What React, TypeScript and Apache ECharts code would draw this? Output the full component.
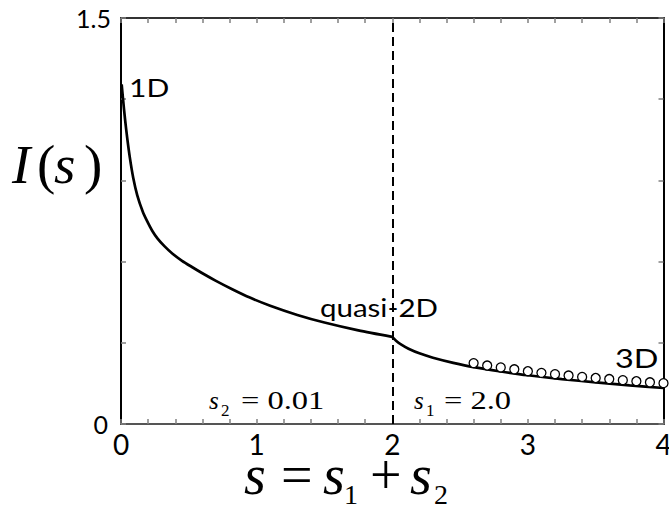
import { useEffect, useRef } from 'react';
import * as echarts from 'echarts';

// x tick labels and y tick labels
const xTickLabels = ['0', '1', '2', '3', '4'];
const yTickLabels = ['0', '1.5'];

// Solid curve, s <= 2 (1D -> quasi-2D)
const sLow = [0.005, 0.015, 0.03, 0.045, 0.065, 0.09, 0.12, 0.16, 0.19, 0.23, 0.27, 0.32, 0.38, 0.45, 0.52, 0.6, 0.7, 0.82, 0.95, 1.1, 1.3, 1.5, 1.75, 2.0];
const iLow = [1.255, 1.2, 1.125, 1.06, 0.985, 0.91, 0.845, 0.785, 0.752, 0.714, 0.685, 0.657, 0.629, 0.603, 0.581, 0.557, 0.529, 0.498, 0.467, 0.437, 0.403, 0.375, 0.346, 0.322];

// Solid curve, s >= 2 (quasi-2D -> 3D)
const sHigh = [2.0, 2.03, 2.07, 2.12, 2.2, 2.3, 2.45, 2.6, 2.8, 3.0, 3.25, 3.5, 3.75, 4.0];
const iHigh = [0.322, 0.307, 0.292, 0.278, 0.261, 0.245, 0.226, 0.21, 0.194, 0.18, 0.166, 0.154, 0.143, 0.133];

// Open circles (3D limit)
const sDots = [2.6, 2.7, 2.8, 2.9, 3.0, 3.1, 3.2, 3.3, 3.4, 3.5, 3.6, 3.7, 3.8, 3.9, 4.0];
const iDots = [0.225, 0.216, 0.209, 0.202, 0.195, 0.189, 0.184, 0.179, 0.174, 0.17, 0.166, 0.162, 0.158, 0.154, 0.151];

// Boundary s1 = 2.0
const boundaryS = 2.0;

const SANS = 'Lato';
const SERIF = 'Liberation Serif';

function txt(text: string, x: number, y: number, fontSize: number, family: string, opts: any = {}) {
  return {
    type: 'text',
    x,
    y,
    scaleX: opts.scaleX ?? 1,
    silent: true,
    z: 100,
    style: {
      text,
      fontSize,
      fontFamily: family,
      fontStyle: opts.italic ? 'italic' : 'normal',
      lineHeight: opts.lineHeight ?? Math.round(fontSize * 1.1),
      fill: '#000',
      align: 'left',
      verticalAlign: 'middle',
      textAlign: 'left',
      textVerticalAlign: 'middle',
    },
  };
}

export default function App() {
  const ref = useRef<HTMLDivElement>(null);
  useEffect(() => {
    const chart = echarts.init(ref.current!, null, { renderer: 'svg' });
    const tickStyle = { color: '#808080', width: 1.5 };
    const xAxisBase = {
      type: 'value',
      min: 0,
      max: 4,
      interval: 1,
      splitLine: { show: false },
      minorSplitLine: { show: false },
      axisTick: { show: true, inside: true, length: 5, lineStyle: tickStyle },
      minorTick: { show: true, splitNumber: 5, length: 5, lineStyle: tickStyle },
    };
    const yAxisBase = {
      type: 'value',
      min: 0,
      max: 1.5,
      interval: 0.3,
      splitLine: { show: false },
      axisTick: { show: true, inside: true, length: 5, lineStyle: tickStyle },
    };
    const yLabelBase = {
      show: true,
      margin: 10,
      fontFamily: SANS,
      fontSize: 25,
      lineHeight: 24,
      color: '#000',
      showMinLabel: true,
      showMaxLabel: true,
    };
    const option: any = {
      animation: false,
      backgroundColor: '#fff',
      grid: { left: 121, right: 5.5, top: 18, bottom: 84, containLabel: false, outerBoundsMode: 'none' },
      xAxis: [
        {
          ...xAxisBase,
          position: 'bottom',
          axisLine: { show: true, onZero: false, lineStyle: { color: '#555', width: 2 } },
          axisLabel: {
            show: true,
            margin: 8,
            fontFamily: SANS,
            fontSize: 28,
            lineHeight: 24,
            color: '#000',
            formatter: (v: number) => xTickLabels[Math.round(v)] ?? '',
          },
        },
        {
          ...xAxisBase,
          position: 'top',
          axisLine: { show: true, onZero: false, lineStyle: { color: '#333', width: 2 } },
          axisLabel: { show: false },
        },
      ],
      yAxis: [
        {
          ...yAxisBase,
          position: 'left',
          axisLine: { show: true, onZero: false, lineStyle: { color: '#000', width: 2 } },
          axisLabel: {
            ...yLabelBase,
            margin: 13,
            formatter: (v: number) => (Math.abs(v) < 1e-9 ? yTickLabels[0] : ''),
          },
        },
        {
          ...yAxisBase,
          position: 'right',
          axisLine: { show: true, onZero: false, lineStyle: { color: '#000', width: 2 } },
          axisLabel: { show: false },
        },
        {
          ...yAxisBase,
          position: 'left',
          axisLine: { show: false, onZero: false },
          axisTick: { show: false },
          axisLabel: {
            ...yLabelBase,
            padding: [13, 0, 0, 0],
            formatter: (v: number) => (Math.abs(v - 1.5) < 1e-9 ? yTickLabels[1] : ''),
          },
        },
      ],
      series: [
        {
          type: 'line',
          name: 'low',
          data: sLow.map((s, i) => [s, iLow[i]]),
          showSymbol: false,
          smooth: 0.25,
          lineStyle: { color: '#000', width: 2.7 },
          z: 3,
          markLine: {
            silent: true,
            symbol: ['none', 'none'],
            label: { show: false },
            lineStyle: { type: [9, 5], color: '#000', width: 2 },
            data: [{ xAxis: boundaryS }],
          },
        },
        {
          type: 'line',
          name: 'high',
          data: sHigh.map((s, i) => [s, iHigh[i]]),
          showSymbol: false,
          smooth: 0.25,
          lineStyle: { color: '#000', width: 2.7 },
          z: 3,
        },
        {
          type: 'scatter',
          name: 'dots',
          data: sDots.map((s, i) => [s, iDots[i]]),
          symbol: 'circle',
          symbolSize: 9,
          itemStyle: { color: '#fff', borderColor: '#000', borderWidth: 1.3, opacity: 1 },
          z: 4,
        },
      ],
      graphic: [
        // y-axis title I(s)
        txt('I', 12, 164, 55, SERIF, { italic: true }),
        txt('(', 37, 164, 55, SERIF),
        txt('s', 54, 164, 55, SERIF, { italic: true }),
        txt(')', 84, 164, 55, SERIF),
        // x-axis title s = s1 + s2
        txt('s', 244, 475, 56, SERIF, { italic: true, lineHeight: 34 }),
        txt('=', 281, 475, 56, SERIF, { lineHeight: 34 }),
        txt('s', 323, 475, 56, SERIF, { italic: true, lineHeight: 34 }),
        txt('1', 344, 494, 28, SERIF, { lineHeight: 24 }),
        txt('+', 370, 475, 56, SERIF, { lineHeight: 34 }),
        txt('s', 410, 475, 56, SERIF, { italic: true, lineHeight: 34 }),
        txt('2', 434, 494, 28, SERIF, { lineHeight: 24 }),
        // regime labels
        txt('1D', 129, 87, 25, SANS, { scaleX: 1.2 }),
        txt('quasi-2D', 320, 307, 25, SANS, { scaleX: 1.18 }),
        txt('3D', 615, 357.5, 27, SANS, { scaleX: 1.2 }),
        // parameter labels
        txt('s', 209, 400, 25, SERIF, { italic: true }),
        txt('2', 221, 410, 17, SERIF),
        txt('= 0.01', 241, 400, 25, SERIF, { scaleX: 1.3 }),
        txt('s', 414, 400, 25, SERIF, { italic: true }),
        txt('1', 426, 410, 17, SERIF),
        txt('= 2.0', 444, 400, 25, SERIF, { scaleX: 1.3 }),
      ],
    };
    chart.setOption(option);
    return () => chart.dispose();
  }, []);
  return (
    <div
      ref={ref}
      style={{ position: 'fixed', left: 0, top: 0, width: 669, height: 508, background: '#fff' }}
    />
  );
}
